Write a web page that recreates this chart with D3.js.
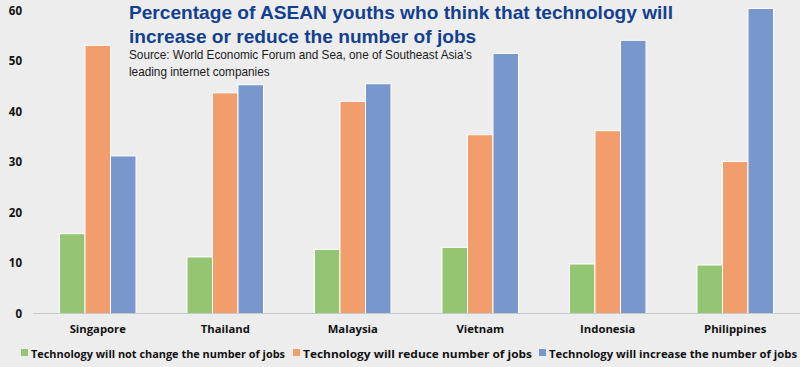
<!DOCTYPE html>
<html><head><meta charset="utf-8">
<script src="https://cdn.jsdelivr.net/npm/d3@7"></script>
<style>html,body{margin:0;padding:0;background:#ededee;}svg{display:block;}</style>
</head><body>
<svg id="chart" width="800" height="367"></svg>
<script>
const categories = ["Singapore","Thailand","Malaysia","Vietnam","Indonesia","Philippines"];
const seriesNames = ["Technology will not change the number of jobs","Technology will reduce number of jobs","Technology will increase the number of jobs"];
const notChange = [15.8, 11.2, 12.7, 13.1, 9.8, 9.6];
const reduce = [53.1, 43.7, 42.0, 35.4, 36.2, 30.1];
const increase = [31.2, 45.3, 45.5, 51.5, 54.1, 60.4];
const yTicks = [0,10,20,30,40,50,60];
const colors = ["#93c572","#f19e6c","#7897cd"];
const titleLines = ["Percentage of ASEAN youths who think that technology will","increase or reduce the number of jobs"];
const sourceLines = ["Source: World Economic Forum and Sea, one of Southeast Asia\u2019s","leading internet companies"];

const svg = d3.select("#chart");
svg.append("rect").attr("width",800).attr("height",367).attr("fill","#ededee");

const series = [notChange, reduce, increase];
const x0 = d3.scaleBand().domain(categories).range([34, 799]).paddingInner(0.4).paddingOuter(0.2);
const x1 = d3.scaleBand().domain(d3.range(3)).range([0, x0.bandwidth()]);
const y = d3.scaleLinear().domain([0,60]).range([313.5, 10.5]);

// y labels
svg.append("g").selectAll("text").data(yTicks).join("text")
  .attr("x",22).attr("y",d=>y(d)).attr("dy","0.35em").attr("text-anchor","end")
  .attr("font-family","'Open Sans', sans-serif").attr("font-weight",700).attr("font-size",11.5)
  .attr("fill","#111").text(d=>d);

// bars
const g = svg.append("g");
categories.forEach((c,i)=>{
  series.forEach((s,j)=>{
    g.append("rect")
      .attr("x", x0(c)+x1(j)).attr("width", x1.bandwidth())
      .attr("y", y(s[i])).attr("height", y(0)-y(s[i]))
      .attr("fill", colors[j]).attr("stroke","#ffffff").attr("stroke-width",1);
  });
});

// axis line
svg.append("line").attr("x1",33).attr("x2",800).attr("y1",313.5).attr("y2",313.5)
  .attr("stroke","#c9c9c9").attr("stroke-width",1);

// category labels
svg.append("g").selectAll("text").data(categories).join("text")
  .attr("x",d=>x0(d)+x0.bandwidth()/2).attr("y",332.5).attr("text-anchor","middle")
  .attr("font-family","'Open Sans', sans-serif").attr("font-weight",700).attr("font-size",11.3)
  .attr("fill","#111").text(d=>d);

// legend
const legX = [21, 293, 539];
const legTextW = [254, 229, 248];
seriesNames.forEach((n,j)=>{
  svg.append("rect").attr("x",legX[j]).attr("y",349).attr("width",7).attr("height",7).attr("fill",colors[j]);
  svg.append("text").attr("x",legX[j]+10).attr("y",357.5)
    .attr("font-family","'Open Sans', sans-serif").attr("font-weight",700).attr("font-size",11)
    .attr("textLength",legTextW[j]).attr("lengthAdjust","spacingAndGlyphs")
    .attr("fill","#111").text(n);
});

// title
const titleEls = titleLines.map((l,i)=>
  svg.append("text").attr("x",129).attr("y",[18.5,42.5][i])
    .attr("font-family","'Liberation Sans', Arial, sans-serif").attr("font-weight",700).attr("font-size",18.5)
    .attr("fill","#123f8f").text(l));
const tw = titleEls[0].node().getComputedTextLength();
const tfs = 18.5*544/tw;
titleEls.forEach(t=>t.attr("font-size",tfs));

const srcEls = sourceLines.map((l,i)=>
  svg.append("text").attr("x",0).attr("y",0)
    .attr("transform",`translate(129,${[59,76][i]})`)
    .attr("font-family","'Liberation Sans', Arial, sans-serif").attr("font-size",13.5)
    .attr("fill","#1a1a1a").text(l));
const sw = srcEls[0].node().getComputedTextLength();
const sx = 343/sw;
srcEls.forEach((t,i)=>t.attr("transform",`translate(129,${[59,76][i]}) scale(${sx},1)`));
</script>
</body></html>
